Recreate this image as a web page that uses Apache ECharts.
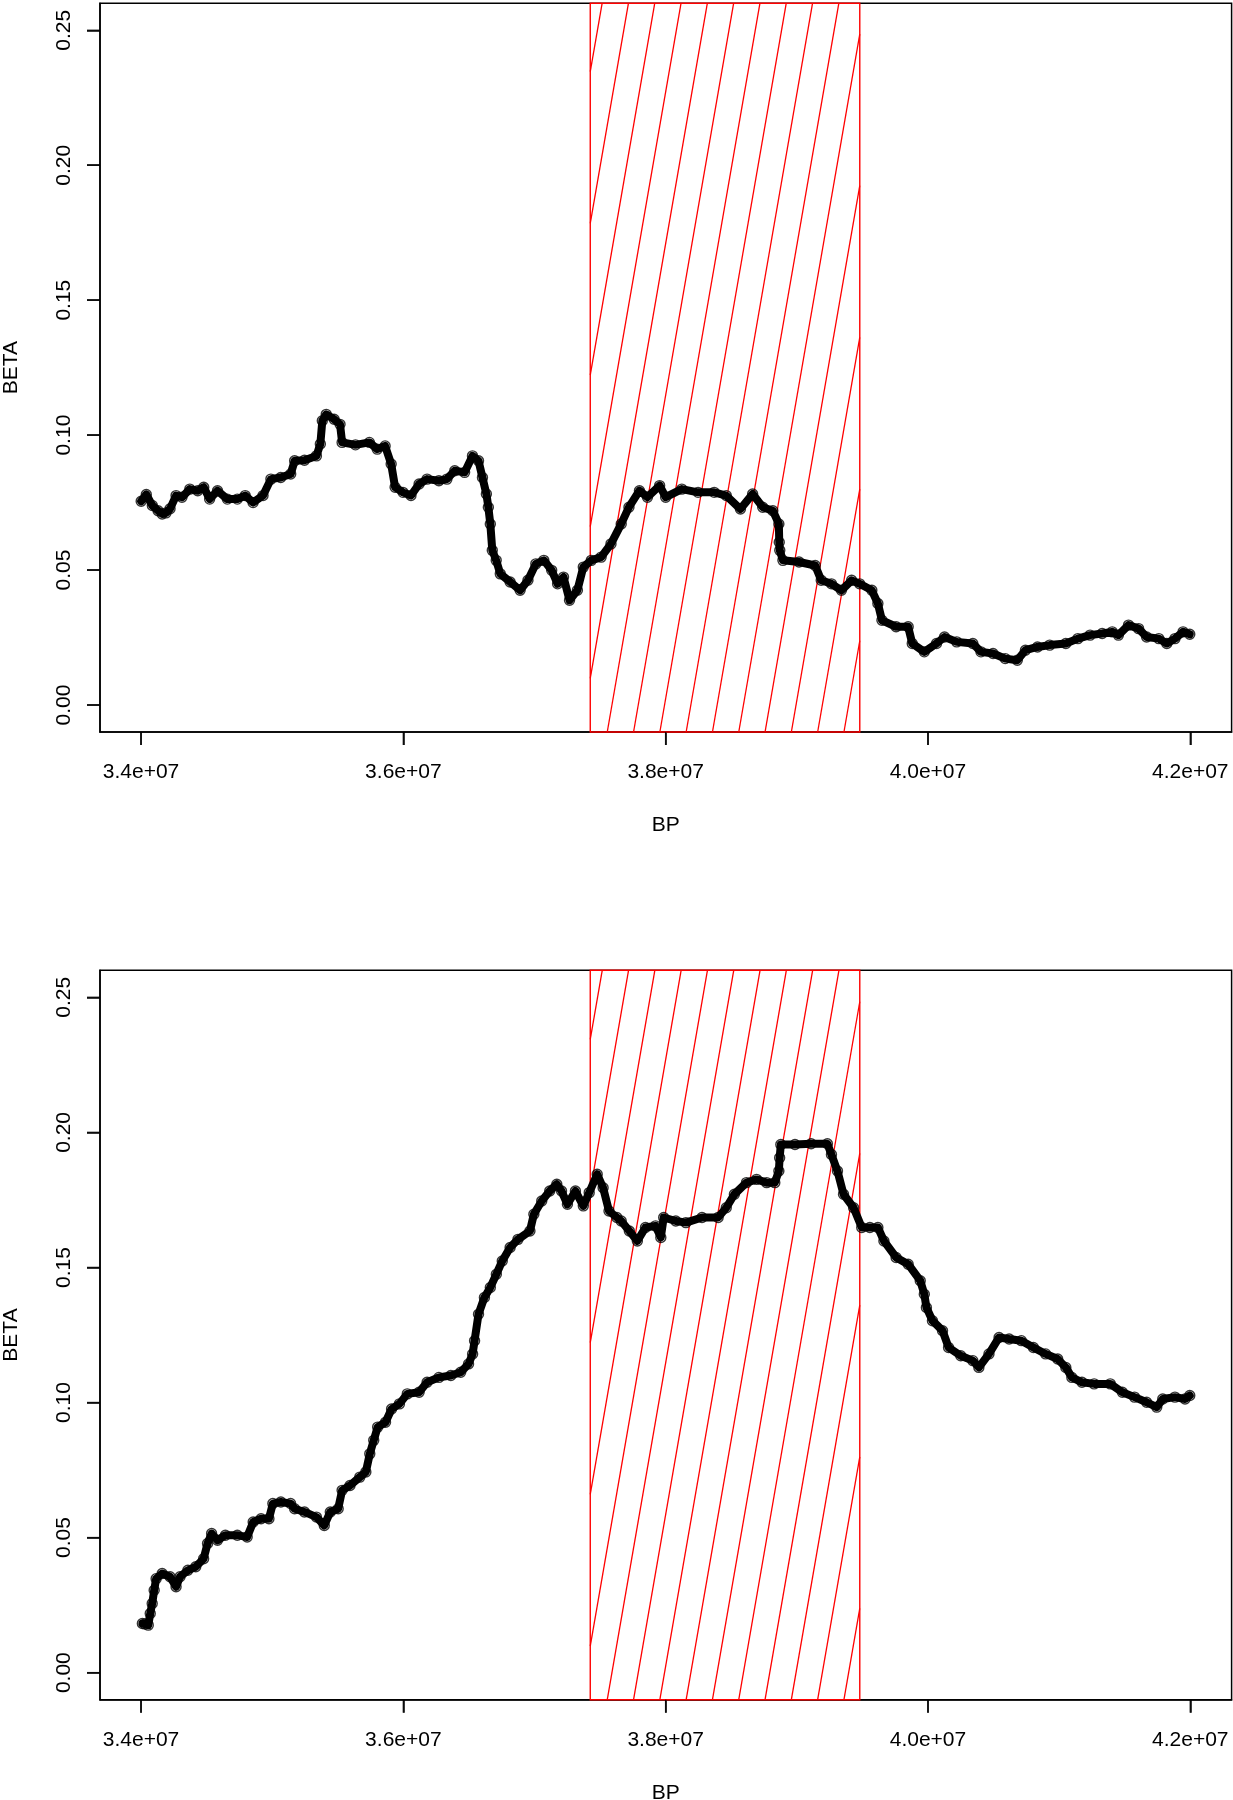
<!DOCTYPE html>
<html><head><meta charset="utf-8">
<script src="https://cdn.jsdelivr.net/npm/echarts@6/dist/echarts.min.js"></script>
<style>html,body{margin:0;padding:0;background:#fff}#c{width:1233px;height:1800px}</style>
</head><body><div id="c"></div>
<script>
// ---- data (BP in base pairs, BETA values) ----
const topBP = [34.001e6,34.040e6,34.086e6,34.130e6,34.161e6,34.190e6,34.221e6,34.267e6,34.312e6,34.372e6,34.432e6,34.478e6,34.523e6,34.583e6,34.658e6,34.734e6,34.794e6,34.854e6,34.930e6,34.990e6,35.065e6,35.141e6,35.171e6,35.246e6,35.337e6,35.367e6,35.382e6,35.412e6,35.472e6,35.517e6,35.533e6,35.635e6,35.741e6,35.801e6,35.861e6,35.907e6,35.937e6,35.997e6,36.058e6,36.120e6,36.181e6,36.271e6,36.332e6,36.392e6,36.467e6,36.527e6,36.573e6,36.603e6,36.633e6,36.648e6,36.663e6,36.678e6,36.708e6,36.739e6,36.814e6,36.890e6,36.950e6,37.010e6,37.071e6,37.131e6,37.176e6,37.221e6,37.267e6,37.327e6,37.372e6,37.433e6,37.508e6,37.583e6,37.661e6,37.720e6,37.800e6,37.861e6,37.954e6,38.000e6,38.123e6,38.247e6,38.370e6,38.462e6,38.570e6,38.663e6,38.740e6,38.817e6,38.863e6,38.866e6,38.870e6,38.894e6,39.017e6,39.140e6,39.186e6,39.264e6,39.340e6,39.418e6,39.479e6,39.572e6,39.618e6,39.649e6,39.757e6,39.849e6,39.880e6,39.972e6,40.065e6,40.126e6,40.219e6,40.342e6,40.404e6,40.496e6,40.589e6,40.681e6,40.743e6,40.835e6,40.928e6,41.051e6,41.143e6,41.236e6,41.328e6,41.405e6,41.452e6,41.529e6,41.606e6,41.667e6,41.760e6,41.821e6,41.883e6,41.945e6,41.996e6];
const topBeta = [0.0755,0.0780,0.0739,0.0720,0.0708,0.0712,0.0727,0.0776,0.0770,0.0800,0.0794,0.0807,0.0763,0.0794,0.0763,0.0763,0.0776,0.0750,0.0776,0.0837,0.0843,0.0856,0.0905,0.0907,0.0923,0.0967,0.1053,0.1077,0.1059,0.1040,0.0973,0.0964,0.0973,0.0948,0.0960,0.0893,0.0807,0.0788,0.0776,0.0819,0.0837,0.0831,0.0837,0.0868,0.0862,0.0923,0.0905,0.0843,0.0782,0.0733,0.0671,0.0573,0.0536,0.0486,0.0456,0.0425,0.0462,0.0523,0.0536,0.0499,0.0449,0.0474,0.0388,0.0425,0.0511,0.0536,0.0548,0.0597,0.0671,0.0733,0.0794,0.0770,0.0813,0.0770,0.0800,0.0788,0.0788,0.0776,0.0726,0.0782,0.0733,0.0720,0.0671,0.0603,0.0573,0.0536,0.0530,0.0517,0.0462,0.0449,0.0425,0.0462,0.0449,0.0425,0.0376,0.0314,0.0290,0.0290,0.0228,0.0197,0.0228,0.0252,0.0234,0.0228,0.0197,0.0191,0.0172,0.0166,0.0203,0.0215,0.0222,0.0228,0.0246,0.0259,0.0265,0.0271,0.0259,0.0296,0.0283,0.0252,0.0246,0.0228,0.0246,0.0271,0.0262];

const bottomBP = [34.010e6,34.030e6,34.055e6,34.070e6,34.085e6,34.100e6,34.115e6,34.161e6,34.221e6,34.267e6,34.297e6,34.357e6,34.417e6,34.477e6,34.507e6,34.538e6,34.583e6,34.643e6,34.734e6,34.809e6,34.855e6,34.915e6,34.975e6,35.005e6,35.066e6,35.140e6,35.171e6,35.246e6,35.337e6,35.397e6,35.443e6,35.503e6,35.533e6,35.593e6,35.668e6,35.714e6,35.744e6,35.774e6,35.804e6,35.864e6,35.910e6,35.970e6,36.030e6,36.120e6,36.181e6,36.271e6,36.362e6,36.437e6,36.497e6,36.528e6,36.543e6,36.573e6,36.618e6,36.663e6,36.709e6,36.754e6,36.814e6,36.874e6,36.965e6,36.995e6,37.055e6,37.116e6,37.170e6,37.206e6,37.251e6,37.312e6,37.372e6,37.417e6,37.478e6,37.523e6,37.568e6,37.628e6,37.661e6,37.723e6,37.784e6,37.846e6,37.923e6,37.963e6,37.985e6,38.077e6,38.154e6,38.277e6,38.400e6,38.462e6,38.524e6,38.616e6,38.693e6,38.770e6,38.832e6,38.863e6,38.869e6,38.878e6,38.986e6,39.109e6,39.233e6,39.264e6,39.310e6,39.356e6,39.433e6,39.495e6,39.557e6,39.618e6,39.664e6,39.757e6,39.849e6,39.941e6,39.972e6,39.988e6,40.034e6,40.111e6,40.157e6,40.250e6,40.342e6,40.388e6,40.465e6,40.542e6,40.619e6,40.712e6,40.804e6,40.897e6,40.989e6,41.051e6,41.097e6,41.174e6,41.267e6,41.390e6,41.482e6,41.575e6,41.667e6,41.744e6,41.790e6,41.883e6,41.960e6,41.996e6];
const bottomBeta = [0.0182,0.0180,0.0176,0.0219,0.0256,0.0305,0.0348,0.0367,0.0355,0.0318,0.0355,0.0379,0.0392,0.0422,0.0478,0.0515,0.0490,0.0509,0.0509,0.0502,0.0558,0.0570,0.0570,0.0626,0.0632,0.0626,0.0607,0.0595,0.0576,0.0545,0.0595,0.0607,0.0675,0.0693,0.0724,0.0743,0.0810,0.0860,0.0909,0.0927,0.0976,0.0995,0.1032,0.1038,0.1075,0.1093,0.1100,0.1112,0.1143,0.1180,0.1229,0.1327,0.1389,0.1426,0.1475,0.1524,0.1574,0.1604,0.1635,0.1697,0.1746,0.1783,0.1808,0.1783,0.1734,0.1783,0.1728,0.1777,0.1845,0.1795,0.1709,0.1685,0.1672,0.1635,0.1598,0.1648,0.1654,0.1611,0.1685,0.1672,0.1666,0.1685,0.1685,0.1721,0.1771,0.1814,0.1826,0.1814,0.1814,0.1857,0.1906,0.1955,0.1955,0.1958,0.1958,0.1918,0.1857,0.1771,0.1721,0.1648,0.1648,0.1648,0.1598,0.1537,0.1512,0.1451,0.1401,0.1352,0.1303,0.1266,0.1204,0.1173,0.1155,0.1130,0.1180,0.1241,0.1235,0.1229,0.1204,0.1180,0.1161,0.1130,0.1093,0.1075,0.1069,0.1069,0.1038,0.1020,0.1001,0.0983,0.1013,0.1020,0.1013,0.1026];

const xTicks = [34000000, 36000000, 38000000, 40000000, 42000000];
const xTickLabels = ['3.4e+07', '3.6e+07', '3.8e+07', '4.0e+07', '4.2e+07'];
const yTicks = [0, 0.05, 0.10, 0.15, 0.20, 0.25];
const yTickLabels = ['0.00', '0.05', '0.10', '0.15', '0.20', '0.25'];
const hatchRegion = [37425000, 39480000];
const xRange = [33687000, 42315000];
const yRange = [-0.01, 0.26];
const xName = 'BP';
const yName = 'BETA';

// ---- styling constants ----
const FONT = '"Liberation Sans", Arial, Helvetica, sans-serif';
const HATCH_SPACING = 26.3;   // horizontal px between hatch lines
const HATCH_SLOPE = 0.1734;   // dx per dy (px)
const HATCH_PHASE = 17;       // px from left edge of first bottom intercept
const TICK_LEN = 13;

function labelFor(ticks, labels, v) {
  let best = 0, bd = Infinity;
  for (let i = 0; i < ticks.length; i++) { const d = Math.abs(ticks[i] - v); if (d < bd) { bd = d; best = i; } }
  return labels[best];
}

function zip(a, b) { return a.map((v, i) => [v, b[i]]); }

const grids = [
  { left: 100, top: 3.3, width: 1131.6, height: 728.7 },
  { left: 100, top: 970.3, width: 1131.6, height: 729.4 }
];

function hatchSeries(idx) {
  return {
    type: 'custom', xAxisIndex: idx, yAxisIndex: idx, silent: true, z: 1,
    animation: false,
    data: [[hatchRegion[0], hatchRegion[1]]],
    renderItem: function (params, api) {
      const p0 = api.coord([api.value(0), yRange[1]]);
      const p1 = api.coord([api.value(1), yRange[0]]);
      const L = p0[0], T = p0[1], R = p1[0], B = p1[1];
      const c = HATCH_SLOPE, h = HATCH_SPACING;
      const st = { stroke: '#ff0000', lineWidth: 1.3, fill: 'none' };
      const children = [];
      const n = Math.ceil(((B - T) * c + HATCH_PHASE) / h) + 1;
      for (let xb = L + HATCH_PHASE - n * h; xb <= R; xb += h) {
        const yLow = Math.min(B, B - (L - xb) / c);
        const yHigh = Math.max(T, B - (R - xb) / c);
        if (yLow - yHigh > 0.5) {
          children.push({ type: 'line', shape: { x1: xb + (B - yLow) * c, y1: yLow, x2: xb + (B - yHigh) * c, y2: yHigh }, style: st });
        }
      }
      children.push({ type: 'rect', shape: { x: L, y: T, width: R - L, height: B - T }, style: { stroke: '#ff0000', lineWidth: 1.4, fill: 'none' } });
      return { type: 'group', children: children };
    }
  };
}

// outward tick marks (R style) as rect symbols positioned through the axes
function xTickMarks(idx) {
  return {
    type: 'scatter', xAxisIndex: idx, yAxisIndex: idx, silent: true, z: 6, clip: false, animation: false,
    data: xTicks.map(v => [v, yRange[0]]),
    symbol: 'rect', symbolSize: [1.5, TICK_LEN], symbolOffset: [0, TICK_LEN / 2],
    itemStyle: { color: '#000', borderWidth: 0 }
  };
}
function yTickMarks(idx) {
  return {
    type: 'scatter', xAxisIndex: idx, yAxisIndex: idx, silent: true, z: 6, clip: false, animation: false,
    data: yTicks.map(v => [xRange[0], v]),
    symbol: 'rect', symbolSize: [TICK_LEN, 1.5], symbolOffset: [-TICK_LEN / 2, 0],
    itemStyle: { color: '#000', borderWidth: 0 }
  };
}

function xAxisCfg(idx) {
  return {
    type: 'value', gridIndex: idx, min: xRange[0], max: xRange[1], position: 'bottom',
    name: xName, nameLocation: 'middle', nameGap: 83,
    nameTextStyle: { fontSize: 21, color: '#000', fontFamily: FONT },
    axisLine: { show: true, onZero: false, lineStyle: { color: '#000', width: 1.5 } }, splitLine: { show: false },
    axisTick: { show: true, inside: false, customValues: xTicks, length: TICK_LEN, lineStyle: { color: '#000', width: 1.5 } },
    axisLabel: { customValues: xTicks, formatter: v => labelFor(xTicks, xTickLabels, v), fontSize: 21, color: '#000', fontFamily: FONT, margin: 30 }
  };
}
function yAxisCfg(idx) {
  return {
    type: 'value', gridIndex: idx, min: yRange[0], max: yRange[1], position: 'left',
    name: yName, nameLocation: 'middle', nameGap: 78,
    nameTextStyle: { fontSize: 21, color: '#000', fontFamily: FONT },
    axisLine: { show: true, onZero: false, lineStyle: { color: '#000', width: 1.5 } }, splitLine: { show: false },
    axisTick: { show: true, inside: false, customValues: yTicks, length: TICK_LEN, lineStyle: { color: '#000', width: 1.5 } },
    axisLabel: { customValues: yTicks, formatter: v => labelFor(yTicks, yTickLabels, v), rotate: 90, fontSize: 21, color: '#000', fontFamily: FONT, margin: 25 }
  };
}

function bandSeries(idx, bp, beta) {
  return {
    type: 'line', xAxisIndex: idx, yAxisIndex: idx, data: zip(bp, beta),
    showSymbol: false, silent: true, z: 2, animation: false,
    lineStyle: { color: '#000', width: 8, join: 'round', cap: 'round' }
  };
}
function pointSeries(idx, bp, beta) {
  return {
    type: 'scatter', xAxisIndex: idx, yAxisIndex: idx, data: zip(bp, beta),
    symbol: 'circle', symbolSize: 10, silent: true, z: 3, animation: false,
    itemStyle: { color: 'rgba(0,0,0,0)', borderColor: '#000', borderWidth: 1.4 }
  };
}

const chart = echarts.init(document.getElementById('c'), null, { renderer: 'canvas' });
chart.setOption({
  backgroundColor: '#fff',
  animation: false,
  grid: grids.map(g => Object.assign({ show: true, borderColor: '#000', borderWidth: 1.5, backgroundColor: 'transparent', containLabel: false, outerBoundsMode: 'none' }, g)),
  xAxis: [xAxisCfg(0), xAxisCfg(1)],
  yAxis: [yAxisCfg(0), yAxisCfg(1)],
  series: [
    hatchSeries(0), bandSeries(0, topBP, topBeta), pointSeries(0, topBP, topBeta), xTickMarks(0), yTickMarks(0),
    hatchSeries(1), bandSeries(1, bottomBP, bottomBeta), pointSeries(1, bottomBP, bottomBeta), xTickMarks(1), yTickMarks(1)
  ]
});
</script>
</body></html>
